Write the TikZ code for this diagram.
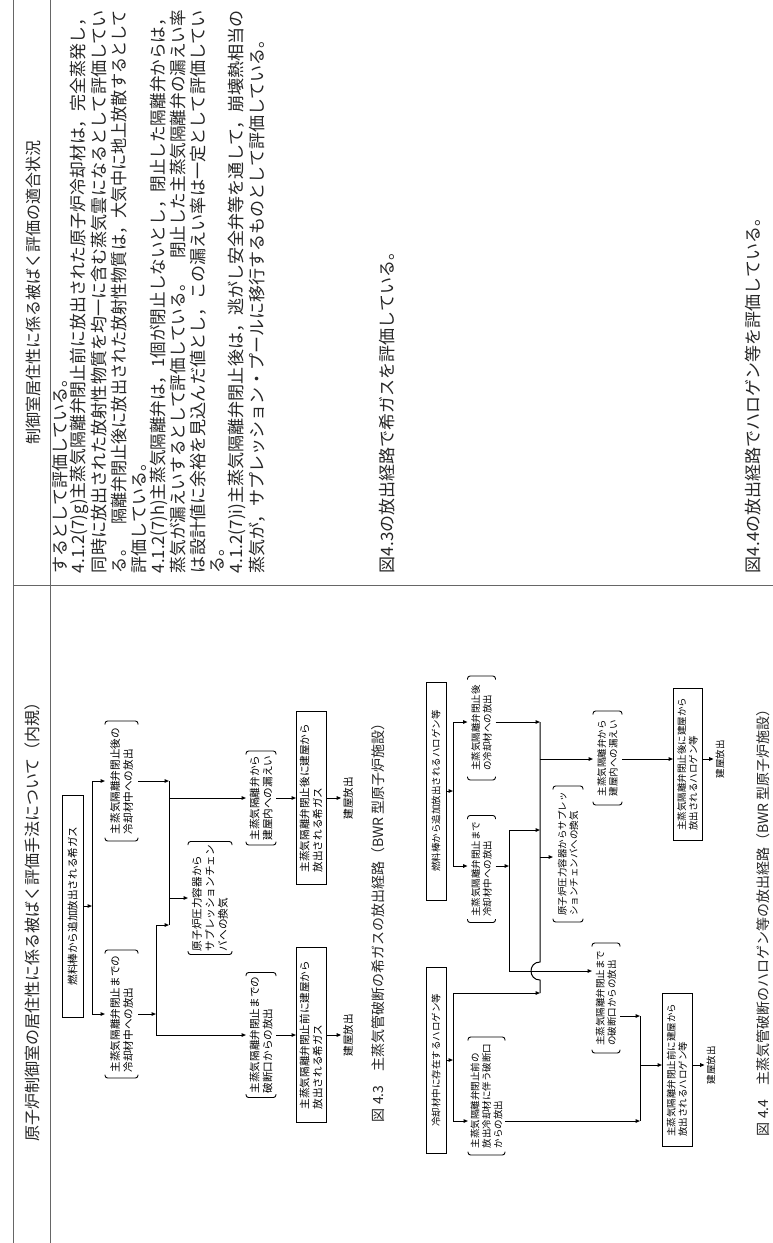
\documentclass[tikz,border=0pt]{standalone}
\usepackage{fontspec}
\usepackage{graphicx}
\setmainfont{Noto Sans CJK JP}
\usetikzlibrary{arrows.meta,calc}
\newcommand\bracketbox[1]{%
  \draw[brk] ($(#1.north west)!3.5pt!(#1.north east)$) -- (#1.north west) -- (#1.south west) -- ($(#1.south west)!3.5pt!(#1.south east)$);
  \draw[brk] ($(#1.north east)!3.5pt!(#1.north west)$) -- (#1.north east) -- (#1.south east) -- ($(#1.south east)!3.5pt!(#1.south west)$);}
\newcommand\fitline[1]{\resizebox{563pt}{\height}{#1}}
\begin{document}
\begin{tikzpicture}[x=1pt,y=-1pt,
  every node/.style={inner sep=0pt, outer sep=0pt},
  tline/.style={draw=black!60, line width=0.9pt},
  btext/.style={rotate=90, anchor=west, font=\fontsize{17}{20}\selectfont, text=black!85},
  hdr/.style={rotate=90, font=\fontsize{16}{19}\selectfont, text=black!85},
  captxt/.style={rotate=90, font=\fontsize{14}{16}\selectfont, text=black!85},
  solidbox/.style={draw, line width=1pt, rotate=90, align=left},
  brbox/.style={rotate=90, align=left},
  fa/.style={font=\fontsize{10.6}{13}\selectfont},
  fb/.style={font=\fontsize{9.5}{11.5}\selectfont},
  outlbl/.style={rotate=90, inner sep=2pt},
  conn/.style={line width=1pt},
  arr/.style={conn, -{Triangle[length=4.5pt,width=3.6pt]}},
  brk/.style={line width=0.9pt, rounded corners=2.6pt},
]
\useasboundingbox (0,0) rectangle (773,1243);
\fill[white] (0,0) rectangle (773,1243);

% table
\draw[tline] (13,0) -- (13,1243);
\draw[tline] (50,0) -- (50,1243);
\draw[tline] (13,585) -- (773,585);

% headers
\node[hdr] (h1) at (32,918) {原子炉制御室の居住性に係る被ばく評価手法について（内規）};
\node[hdr] (h2) at (33,292) {制御室居住性に係る被ばく評価の適合状況};

% right column text
\node[btext] (l1) at (60,573) {するとして評価している。};
\node[btext] (l2) at (79.7,573) {\fitline{4.1.2(7)g)主蒸気隔離弁閉止前に放出された原子炉冷却材は，完全蒸発し，}};
\node[btext] (l3) at (99.4,573) {\fitline{同時に放出された放射性物質を均一に含む蒸気雲になるとして評価してい}};
\node[btext] (l4) at (119.1,573) {\fitline{る。　隔離弁閉止後に放出された放射性物質は，大気中に地上放散するとして}};
\node[btext] (l5) at (138.8,573) {評価している。};
\node[btext] (l6) at (158.5,573) {\fitline{4.1.2(7)h)主蒸気隔離弁は，1個が閉止しないとし，閉止した隔離弁からは，}};
\node[btext] (l7) at (178.2,573) {\fitline{蒸気が漏えいするとして評価している。　閉止した主蒸気隔離弁の漏えい率}};
\node[btext] (l8) at (197.9,573) {\fitline{は設計値に余裕を見込んだ値とし，この漏えい率は一定として評価してい}};
\node[btext] (l9) at (217.6,573) {る。};
\node[btext] (l10) at (237.3,573) {\fitline{4.1.2(7)i)主蒸気隔離弁閉止後は，逃がし安全弁等を通して，崩壊熱相当の}};
\node[btext] (l11) at (257,573) {蒸気が，サプレッション・プールに移行するものとして評価している。};
\node[btext] (l12) at (387,573) {図4.3の放出経路で希ガスを評価している。};
\node[btext] (l13) at (753,573) {図4.4の放出経路でハロゲン等を評価している。};

% ================= Fig 4.3 =================
\node[solidbox, fa, minimum width=222pt, minimum height=21pt] (a1) at (72.5,906) {燃料棒から追加放出される希ガス};
\node[brbox, fa, minimum width=120pt, minimum height=33pt] (a2) at (121.5,781) {主蒸気隔離弁閉止後の\\冷却材中への放出};
\node[brbox, fa, minimum width=128pt, minimum height=33pt] (a3) at (121.5,1014) {主蒸気隔離弁閉止までの\\冷却材中への放出};
\node[brbox, fa, minimum width=113pt, minimum height=44pt] (a4) at (210,898) {原子炉圧力容器から\\サプレッションチェン\\バへの換気};
\node[brbox, fa, minimum width=94pt, minimum height=30pt] (a5) at (261,798) {主蒸気隔離弁から\\建屋内への漏えい};
\node[brbox, fa, minimum width=125pt, minimum height=30pt] (a6) at (261,1035) {主蒸気隔離弁閉止までの\\破断口からの放出};
\node[solidbox, fa, minimum width=173pt, minimum height=30pt] (a7) at (311,798) {主蒸気隔離弁閉止後に建屋から\\放出される希ガス};
\node[solidbox, fa, minimum width=175pt, minimum height=30pt] (a8) at (311,1035) {主蒸気隔離弁閉止前に建屋から\\放出される希ガス};
\node[outlbl, fa] (a9) at (348,798) {建屋放出};
\node[outlbl, fa] (a10) at (348,1035) {建屋放出};
\node[captxt] (cap43) at (378,919) {図 4.3　主蒸気管破断の希ガスの放出経路（BWR 型原子炉施設）};
\foreach \n in {a2,a3,a4,a5,a6} {\bracketbox{\n}}

\coordinate (J1t) at (92,781);
\coordinate (J1m) at (92,906);
\coordinate (J1b) at (92,1014);
\coordinate (J2t) at (169,781);
\coordinate (J2a) at (169,798);
\coordinate (J2c) at (169,898);
\coordinate (J2b) at (169,925);
\coordinate (J3t) at (156,925);
\coordinate (J3m) at (156,1014);
\coordinate (J3b) at (156,1035);

\draw[arr] (a1.south) -- (J1m);
\draw[conn] (J1t) -- (J1b);
\draw[arr] (J1t) -- (J1t -| a2.north);
\draw[arr] (J1b) -- (J1b -| a3.north);
\draw[arr] (a2.south) -- (J2t);
\draw[conn] (J2t) -- (J2b);
\draw[arr] (J2a) -- (J2a -| a5.north);
\draw[arr] (J2c) -- (J2c -| a4.north);
\draw[arr] (a3.south) -- (J3m);
\draw[conn] (J3t) -- (J3b);
\draw[arr] (J3t) -- (J2b);
\draw[arr] (J3b) -- (J3b -| a6.north);
\draw[arr] (a5.south) -- (a5.south -| a7.north);
\draw[arr] (a7.south) -- (a9.north);
\draw[arr] (a6.south) -- (a6.south -| a8.north);
\draw[arr] (a8.south) -- (a10.north);

% ================= Fig 4.4 =================
\node[solidbox, fb, minimum width=218pt, minimum height=20pt] (b1) at (436,791) {燃料棒から追加放出されるハロゲン等};
\node[brbox, fb, minimum width=104pt, minimum height=28pt] (b2) at (481.5,728) {主蒸気隔離弁閉止後\\の冷却材への放出};
\node[brbox, fb, minimum width=107pt, minimum height=28pt] (b3) at (481.5,869) {主蒸気隔離弁閉止まで\\冷却材中への放出};
\node[brbox, fb, minimum width=136pt, minimum height=30pt] (b4) at (568,854) {原子炉圧力容器からサプレッ\\ションチェンバへの換気};
\node[brbox, fb, minimum width=94pt, minimum height=29pt] (b5) at (607.5,758) {主蒸気隔離弁から\\建屋内への漏えい};
\node[brbox, fb, minimum width=110pt, minimum height=28pt] (b6) at (606,998) {主蒸気隔離弁閉止まで\\の破断口からの放出};
\node[solidbox, fb, minimum width=152pt, minimum height=29pt] (b7) at (687.5,764) {主蒸気隔離弁閉止後に建屋から\\放出されるハロゲン等};
\node[outlbl, fb] (b8) at (720,759) {建屋放出};
\node[solidbox, fb, minimum width=186pt, minimum height=20pt] (b9) at (436,1060) {冷却材中に存在するハロゲン等};
\node[brbox, fb, minimum width=118pt, minimum height=37pt] (b10) at (486.5,1096) {主蒸気隔離弁閉止前の\\放出冷却材に伴う破断口\\からの放出};
\node[solidbox, fb, minimum width=153pt, minimum height=30pt] (b11) at (677,1070) {主蒸気隔離弁閉止前に建屋から\\放出されるハロゲン等};
\node[outlbl, fb] (b12) at (711,1065) {建屋放出};
\node[captxt] (cap44) at (763,919) {図 4.4　主蒸気管破断のハロゲン等の放出経路（BWR 型原子炉施設）};
\foreach \n in {b2,b3,b4,b5,b6,b10} {\bracketbox{\n}}

\coordinate (K1t) at (453,722);
\coordinate (K1m) at (453,791);
\coordinate (K1b) at (453,866);
\coordinate (K2t) at (540,722);
\coordinate (K2a) at (540,759);
\coordinate (K2d) at (540,830);
\coordinate (K2c) at (540,857);
\coordinate (H1) at (540,962);
\coordinate (H2) at (540,980);
\coordinate (K2b) at (540,993);
\coordinate (K3t) at (509,830);
\coordinate (K3m) at (509,866);
\coordinate (K3b) at (509,971);
\coordinate (K4t) at (453,993);
\coordinate (K4m) at (453,1060);
\coordinate (K4b) at (453,1121);
\coordinate (K5t) at (640,1016);
\coordinate (K5m) at (640,1065);
\coordinate (K5b) at (640,1121);

\draw[arr] (b1.south) -- (K1m);
\draw[conn] (K1t) -- (K1b);
\draw[arr] (K1t) -- (K1t -| b2.north);
\draw[arr] (K1b) -- (K1b -| b3.north);
\draw[arr] (K2t -| b2.south) -- (K2t);
\draw[conn] (K2t) -- (H1) .. controls +(-12,0) and +(-12,0) .. (H2) -- (K2b);
\draw[arr] (K2a) -- (K2a -| b5.north);
\draw[arr] (K2c) -- (K2c -| b4.north);
\draw[arr] (K3m -| b3.south) -- (K3m);
\draw[conn] (K3t) -- (K3b);
\draw[arr] (K3t) -- (K2d);
\draw[arr] (K3b) -- (K3b -| b6.north);
\draw[arr] (K2a -| b5.south) -- (K2a -| b7.north);
\draw[arr] (K2a -| b7.south) -- (K2a -| b8.north);
\draw[conn] (K4t) -- (K4b);
\draw[arr] (K4t) -- (K2b);
\draw[arr] (K4m -| b9.south) -- (K4m);
\draw[arr] (K4b) -- (K4b -| b10.north);
\draw[arr] (K5t -| b6.south) -- (K5t);
\draw[conn] (K5t) -- (K5b);
\draw[arr] (K5b -| b10.south) -- (K5b);
\draw[arr] (K5m) -- (K5m -| b11.north);
\draw[arr] (K5m -| b11.south) -- (K5m -| b12.north);
\end{tikzpicture}
\end{document}
